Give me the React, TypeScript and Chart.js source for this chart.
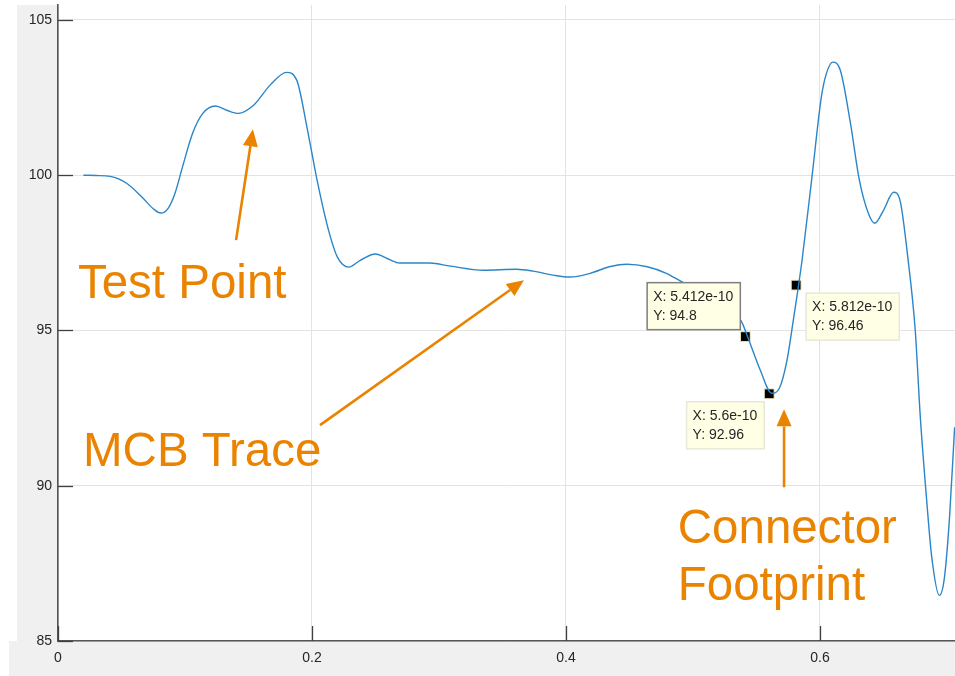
import React, { useEffect, useRef } from "react";
import { Chart, registerables } from "chart.js";

Chart.register(...registerables);

// ---- data ----
const traceX = [
  0.02, 0.03, 0.041, 0.054, 0.066, 0.075, 0.081, 0.087, 0.092, 0.098, 0.106, 0.114,
  0.124, 0.133, 0.142, 0.154, 0.167, 0.18, 0.188, 0.196, 0.204, 0.213, 0.22, 0.229,
  0.238, 0.25, 0.26, 0.269, 0.293, 0.309, 0.335, 0.361, 0.374, 0.39, 0.403, 0.419,
  0.435, 0.448, 0.464, 0.479, 0.492, 0.505, 0.52, 0.53, 0.538, 0.543, 0.553, 0.562,
  0.568, 0.574, 0.579, 0.583, 0.586, 0.594, 0.601, 0.605, 0.61, 0.616, 0.624, 0.631,
  0.638, 0.643, 0.65, 0.658, 0.663, 0.669, 0.675, 0.679, 0.684, 0.688, 0.694, 0.698,
  0.702, 0.706,
];
const traceY = [
  100.0, 99.99, 99.96, 99.74, 99.3, 98.92, 98.78, 98.95, 99.4, 100.26, 101.35, 101.99,
  102.23, 102.09, 101.99, 102.25, 102.9, 103.31, 103.06, 101.55, 99.84, 98.23, 97.36, 97.04,
  97.26, 97.46, 97.3, 97.17, 97.17, 97.07, 96.94, 96.97, 96.91, 96.78, 96.72, 96.84,
  97.06, 97.13, 97.05, 96.84, 96.55, 96.3, 95.97, 95.62, 95.3, 94.8, 93.72, 92.98,
  93.14, 94.04, 95.33, 96.42, 97.3, 100.06, 102.5, 103.27, 103.64, 103.38, 101.67, 99.84,
  98.78, 98.45, 98.87, 99.45, 99.19, 97.4, 95.0, 92.2, 89.53, 87.7, 86.47, 87.05,
  88.99, 91.88,
];

const tipX = [0.5412, 0.56, 0.5812];
const tipY = [94.8, 92.96, 96.46];
const tipXText = ["5.412e-10", "5.6e-10", "5.812e-10"];
const tipYText = ["94.8", "92.96", "96.46"];

const xTicks = [0, 0.2, 0.4, 0.6];
const yTicks = [85, 90, 95, 100, 105];
const xMin = 0;
const xMax = 0.7063;
const yMin = 85;
const yMax = 105.48;

const noteTexts = ["Test Point", "MCB Trace", "Connector", "Footprint"];
const noteX = [0.0157, 0.0197, 0.488, 0.488];
const noteY = [96.04, 90.63, 88.15, 86.31];

const arrowFromX = [0.1402, 0.2063, 0.5717];
const arrowFromY = [97.91, 91.95, 89.95];
const arrowToX = [0.1535, 0.3669, 0.5717];
const arrowToY = [101.48, 96.62, 92.46];

// ---- styles ----
const ORANGE = "#E98300";
const FONT = "'Liberation Sans', Arial, Helvetica, sans-serif";

const bgPlugin = {
  id: "bgPanels",
  beforeDraw(chart: any) {
    const { ctx, chartArea } = chart;
    ctx.save();
    ctx.fillStyle = "#f0f0f0";
    ctx.fillRect(17, chartArea.top, chartArea.left - 17, chartArea.bottom - chartArea.top);
    ctx.fillRect(9, chartArea.bottom, chart.width - 9, chart.height - chartArea.bottom);
    ctx.restore();
  },
};

function drawArrow(ctx: any, x0: number, y0: number, x1: number, y1: number) {
  const ang = Math.atan2(y1 - y0, x1 - x0);
  const headLen = 17;
  const headHalf = 7.5;
  const bx = x1 - headLen * Math.cos(ang);
  const by = y1 - headLen * Math.sin(ang);
  ctx.beginPath();
  ctx.moveTo(x0, y0);
  ctx.lineTo(bx, by);
  ctx.strokeStyle = ORANGE;
  ctx.lineWidth = 2.6;
  ctx.stroke();
  ctx.beginPath();
  ctx.moveTo(x1, y1);
  ctx.lineTo(bx + headHalf * Math.sin(ang), by - headHalf * Math.cos(ang));
  ctx.lineTo(bx - headHalf * Math.sin(ang), by + headHalf * Math.cos(ang));
  ctx.closePath();
  ctx.fillStyle = ORANGE;
  ctx.fill();
}

const overlayPlugin = {
  id: "overlay",
  afterDatasetsDraw(chart: any) {
    const { ctx, chartArea, scales } = chart;
    const xs = scales.x;
    const ys = scales.y;
    ctx.save();

    // inward tick marks
    ctx.strokeStyle = "#404040";
    ctx.lineWidth = 1.3;
    yTicks.forEach((v) => {
      const py = Math.round(ys.getPixelForValue(v)) + 0.5;
      ctx.beginPath();
      ctx.moveTo(chartArea.left, py);
      ctx.lineTo(chartArea.left + 15, py);
      ctx.stroke();
    });
    xTicks.forEach((v) => {
      const px = Math.round(xs.getPixelForValue(v)) + 0.5;
      ctx.beginPath();
      ctx.moveTo(px, chartArea.bottom);
      ctx.lineTo(px, chartArea.bottom - 15);
      ctx.stroke();
    });

    // data tips
    ctx.font = `14px ${FONT}`;
    ctx.textBaseline = "middle";
    ctx.textAlign = "left";
    tipX.forEach((v, i) => {
      const px = xs.getPixelForValue(v);
      const py = ys.getPixelForValue(tipY[i]);
      const l1 = "X: " + tipXText[i];
      const l2 = "Y: " + tipYText[i];
      const w = Math.max(ctx.measureText(l1).width, ctx.measureText(l2).width) + 13;
      const h = 47;
      let bx: number;
      let by: number;
      if (i === 0) {
        bx = px - 5 - w;
        by = py - 7 - h;
      } else if (i === 1) {
        bx = px - 5 - w;
        by = py + 8;
      } else {
        bx = px + 10;
        by = py + 8;
      }
      ctx.fillStyle = "#FFFFE6";
      ctx.fillRect(bx, by, w, h);
      ctx.strokeStyle = i === 0 ? "#7f7f7f" : "#e8e8d6";
      ctx.lineWidth = 1.5;
      ctx.strokeRect(bx, by, w, h);
      ctx.fillStyle = "#262626";
      ctx.fillText(l1, bx + 6, by + 14.5);
      ctx.fillText(l2, bx + 6, by + 33);
    });

    // arrows
    arrowFromX.forEach((v, i) => {
      drawArrow(
        ctx,
        xs.getPixelForValue(v),
        ys.getPixelForValue(arrowFromY[i]),
        xs.getPixelForValue(arrowToX[i]),
        ys.getPixelForValue(arrowToY[i])
      );
    });

    // annotation texts
    ctx.font = `47.5px ${FONT}`;
    ctx.fillStyle = ORANGE;
    ctx.textBaseline = "alphabetic";
    ctx.textAlign = "left";
    noteTexts.forEach((t, i) => {
      ctx.fillText(t, xs.getPixelForValue(noteX[i]), ys.getPixelForValue(noteY[i]));
    });

    ctx.restore();
  },
};

export default function App() {
  const ref = useRef<HTMLCanvasElement | null>(null);

  useEffect(() => {
    if (!ref.current) return;
    const chart = new Chart(ref.current, {
      type: "line",
      data: {
        datasets: [
          {
            label: "MCB Trace",
            data: traceX.map((x, i) => ({ x, y: traceY[i] })),
            borderColor: "#2a86c8",
            borderWidth: 1.4,
            pointRadius: 0,
            cubicInterpolationMode: "monotone",
            fill: false,
          },
          {
            label: "Data tips",
            data: tipX.map((x, i) => ({ x, y: tipY[i] })),
            showLine: false,
            pointStyle: "rect",
            pointRadius: 7,
            backgroundColor: "#000000",
            borderColor: "#f5f0c8",
            borderWidth: 1,
          },
        ],
      },
      options: {
        animation: false,
        responsive: false,
        devicePixelRatio: 1,
        layout: { autoPadding: false, padding: { top: 5, right: 0, left: 0, bottom: 0 } },
        plugins: {
          legend: { display: false },
          tooltip: { enabled: false },
        },
        scales: {
          x: {
            type: "linear",
            min: xMin,
            max: xMax,
            afterBuildTicks: (s: any) => {
              s.ticks = xTicks.map((v) => ({ value: v }));
            },
            afterFit: (s: any) => {
              s.height = 35;
              s.paddingLeft = 0;
              s.paddingRight = 0;
              s.paddingTop = 0;
              s.paddingBottom = 0;
            },
            ticks: {
              autoSkip: false,
              maxRotation: 0,
              padding: 9,
              color: "#262626",
              font: { family: FONT, size: 14 },
              callback: (v: any) => String(v),
            },
            grid: { color: "#e3e3e3", lineWidth: 1, drawTicks: false },
            border: { color: "#555555", width: 1.6 },
          },
          y: {
            type: "linear",
            min: yMin,
            max: yMax,
            afterBuildTicks: (s: any) => {
              s.ticks = yTicks.map((v) => ({ value: v }));
            },
            afterFit: (s: any) => {
              s.width = 58;
              s.paddingLeft = 0;
              s.paddingRight = 0;
              s.paddingTop = 0;
              s.paddingBottom = 0;
            },
            ticks: {
              autoSkip: false,
              padding: 6,
              color: "#262626",
              font: { family: FONT, size: 14 },
              callback: (v: any) => String(v),
            },
            grid: { color: "#e3e3e3", lineWidth: 1, drawTicks: false },
            border: { color: "#555555", width: 1.6 },
          },
        },
      },
      plugins: [bgPlugin, overlayPlugin],
    } as any);
    return () => chart.destroy();
  }, []);

  return (
    <div style={{ position: "fixed", left: 0, top: 0, width: 955, height: 676, background: "#ffffff" }}>
      <canvas ref={ref} width={955} height={676} style={{ display: "block", width: 955, height: 676 }} />
    </div>
  );
}
